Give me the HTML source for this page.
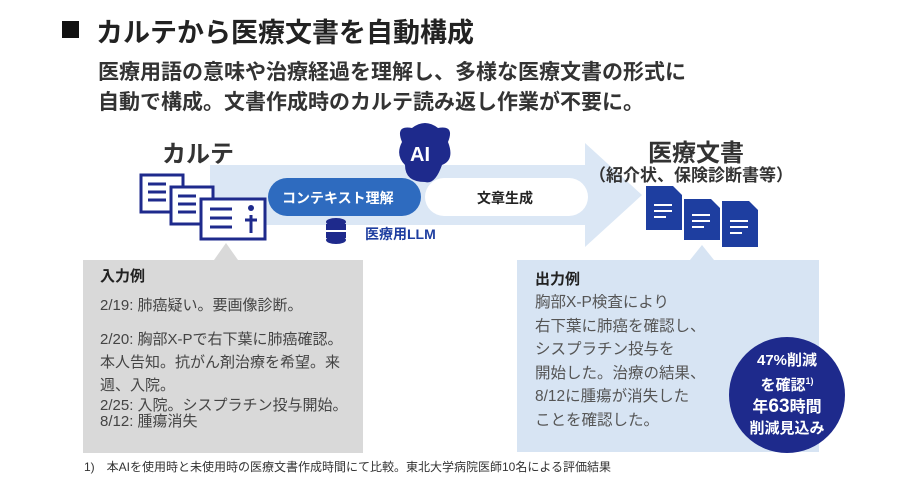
<!DOCTYPE html>
<html><head><meta charset="utf-8"><style>
body{margin:0;width:900px;height:490px;background:#fff;position:relative;overflow:hidden;font-family:"Liberation Sans","Noto Sans CJK JP",sans-serif;color:#222}
.a{position:absolute;white-space:nowrap}
</style></head><body>
<div class="a" style="left:62px;top:21px;width:17px;height:17px;background:#111"></div>
<div class="a" style="left:96px;top:11px;font-size:27px;font-weight:bold;color:#222">カルテから医療文書を自動構成</div>
<div class="a" style="left:98px;top:58px;font-size:21px;font-weight:bold;color:#333;line-height:30px">医療用語の意味や治療経過を理解し、多様な医療文書の形式に<br>自動で構成。文書作成時のカルテ読み返し作業が不要に。</div>

<svg class="a" style="left:0;top:0" width="900" height="490">
<polygon points="210,165 585,165 585,143 642,195 585,247 585,225 210,225" fill="#dbe7f5"/>
<rect x="83" y="260" width="280" height="193" fill="#d9d9d9"/>
<polygon points="214,260 226,243 238,260" fill="#d9d9d9"/>
<rect x="517" y="260" width="302" height="192" fill="#d7e4f3"/>
<polygon points="690,260 702,245 714,260" fill="#d7e4f3"/>
<circle cx="787" cy="395" r="58" fill="#1e2a8c"/>
<g fill="#fff" stroke="#1e2a8c" stroke-width="3">
<rect x="141" y="175" width="42" height="37"/>
<rect x="171" y="187" width="42" height="37"/>
<rect x="201" y="199" width="64" height="40"/>
</g>
<g stroke="#1e2a8c" stroke-width="3">
<line x1="148" y1="184" x2="166" y2="184"/><line x1="148" y1="192" x2="166" y2="192"/><line x1="148" y1="200" x2="166" y2="200"/>
<line x1="178" y1="196" x2="196" y2="196"/><line x1="178" y1="204" x2="196" y2="204"/><line x1="178" y1="212" x2="196" y2="212"/>
<line x1="210" y1="209" x2="232" y2="209"/><line x1="210" y1="218" x2="232" y2="218"/><line x1="210" y1="227" x2="232" y2="227"/>
<line x1="251" y1="215" x2="251" y2="233"/><line x1="245" y1="220" x2="257" y2="220"/>
</g>
<circle cx="251" cy="208" r="3" fill="#1e2a8c"/>
<rect x="425" y="178" width="163" height="38" rx="19" fill="#fff"/>
<rect x="268" y="178" width="153" height="38" rx="19" fill="#2e6bbf"/>
<path d="M402,142 Q395,125 412,128 Q425,118 438,128 Q455,125 448,142 Q455,160 442,165 Q435,185 425,182 Q405,182 405,165 Q395,155 402,142Z" fill="#1e2a8c"/>
<g fill="#1e2a8c"><ellipse cx="336" cy="222" rx="10" ry="4"/><rect x="326" y="224" width="20" height="6"/><rect x="326" y="232" width="20" height="6"/><ellipse cx="336" cy="240" rx="10" ry="4"/></g>
<g fill="#1e3ea0">
<polygon points="646,186 673,186 682,195 682,230 646,230"/>
<polygon points="684,199 711,199 720,208 720,240 684,240"/>
<polygon points="722,201 749,201 758,210 758,247 722,247"/>
</g>
<g stroke="#fff" stroke-width="2"><line x1="654" y1="205" x2="672" y2="205"/><line x1="654" y1="211" x2="672" y2="211"/><line x1="654" y1="217" x2="666" y2="217"/>
<line x1="692" y1="215" x2="710" y2="215"/><line x1="692" y1="221" x2="710" y2="221"/><line x1="692" y1="227" x2="704" y2="227"/>
<line x1="730" y1="221" x2="748" y2="221"/><line x1="730" y1="227" x2="748" y2="227"/><line x1="730" y1="233" x2="742" y2="233"/></g>
</svg>
<div class="a" style="left:410px;top:144px;font-size:20px;font-weight:bold;color:#fff">AI</div>
<div class="a" style="left:162px;top:134px;font-size:24px;font-weight:bold;color:#333">カルテ</div>
<div class="a" style="left:282px;top:188px;font-size:14px;font-weight:bold;color:#fff">コンテキスト理解</div>
<div class="a" style="left:477px;top:188px;font-size:14px;font-weight:bold;color:#222">文章生成</div>
<div class="a" style="left:365px;top:224px;font-size:14px;font-weight:bold;color:#1e3ea0">医療用LLM</div>
<div class="a" style="left:648px;top:133px;font-size:24px;font-weight:bold;color:#333">医療文書</div>
<div class="a" style="left:589px;top:161px;font-size:17px;font-weight:bold;color:#333">（紹介状、保険診断書等）</div>
<div class="a" style="left:100px;top:265px;font-size:15px;font-weight:bold;color:#222">入力例</div>
<div class="a" style="left:100px;top:294px;font-size:15px;color:#444;line-height:23px">2/19: 肺癌疑い。要画像診断。</div>
<div class="a" style="left:100px;top:328px;font-size:15px;color:#444;line-height:23px">2/20: 胸部X-Pで右下葉に肺癌確認。<br>本人告知。抗がん剤治療を希望。来<br>週、入院。</div>
<div class="a" style="left:100px;top:398px;font-size:15px;color:#444;line-height:16px">2/25: 入院。シスプラチン投与開始。<br>8/12: 腫瘍消失</div>
<div class="a" style="left:535px;top:268px;font-size:15px;font-weight:bold;color:#222">出力例</div>
<div class="a" style="left:535px;top:291px;font-size:15.5px;color:#555;line-height:23.5px">胸部X-P検査により<br>右下葉に肺癌を確認し、<br>シスプラチン投与を<br>開始した。治療の結果、<br>8/12に腫瘍が消失した<br>ことを確認した。</div>
<div class="a" style="left:729px;top:350px;width:116px;text-align:center;font-size:15px;font-weight:bold;color:#fff;line-height:21px">47%削減<br>を確認<sup style="font-size:9px">1)</sup><br><span style="font-size:16px">年<span style="font-size:19px">63</span>時間</span><br>削減見込み</div>
<div class="a" style="left:84px;top:458px;font-size:12px;color:#333">1)　本AIを使用時と未使用時の医療文書作成時間にて比較。東北大学病院医師10名による評価結果</div>
</body></html>
